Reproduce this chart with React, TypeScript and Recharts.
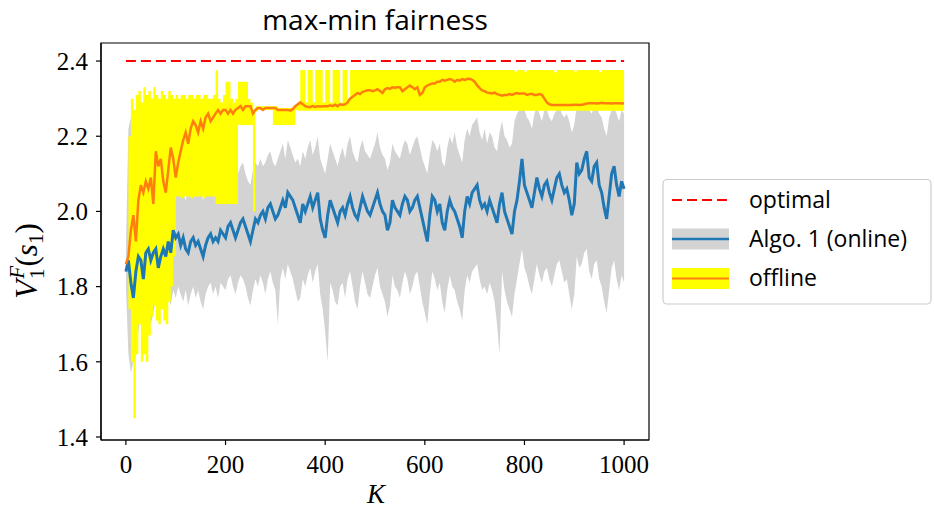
import React from "react";
import { ComposedChart, XAxis, YAxis, Area, Line, ReferenceArea } from "recharts";

// sampling grid: K = 0, 5, 10, ..., 1000
const OPTIMAL = 2.4;

const onlineMean = [
  1.84,1.87,1.81,1.77,1.84,1.88,1.87,1.82,1.89,1.90,1.87,1.89,1.90,1.85,1.88,1.90,1.88,1.92,1.89,1.95,
  1.93,1.94,1.91,1.93,1.90,1.89,1.92,1.93,1.91,1.92,1.90,1.88,1.91,1.93,1.94,1.92,1.93,1.92,1.95,1.94,
  1.93,1.96,1.97,1.95,1.93,1.95,1.97,1.98,1.96,1.94,1.92,1.95,1.98,1.97,1.99,2.00,1.98,2.01,2.02,2.00,
  1.98,1.99,2.01,2.03,2.01,2.05,2.04,2.03,2.01,1.99,1.97,2.02,2.00,2.02,2.04,2.01,2.03,2.05,1.98,1.95,
  1.93,1.99,2.03,2.01,1.99,1.97,2.00,2.01,1.99,2.02,2.04,2.01,1.99,1.98,2.01,2.04,2.02,2.00,1.99,2.01,
  2.03,2.05,2.02,2.00,1.99,1.95,1.97,2.03,2.01,2.00,1.99,2.02,2.04,2.03,2.00,2.01,2.03,2.04,2.01,1.98,
  1.95,1.92,1.99,2.04,2.03,2.00,2.02,1.97,1.95,2.00,2.03,2.01,2.00,1.98,1.96,1.93,2.00,2.04,2.02,2.05,
  2.06,2.07,2.03,2.01,2.02,2.00,2.03,2.01,1.99,1.97,2.02,2.05,2.00,1.98,1.96,1.94,2.00,2.03,2.08,2.14,
  2.07,2.05,2.03,2.01,2.05,2.09,2.06,2.04,2.07,2.08,2.05,2.03,2.06,2.09,2.10,2.07,2.05,2.06,2.03,1.99,
  2.02,2.13,2.10,2.11,2.14,2.16,2.09,2.08,2.12,2.13,2.07,2.05,2.01,1.98,2.04,2.10,2.12,2.07,2.04,2.08,
  2.06,
];

const onlineHigh = [
  1.90,2.22,2.25,2.12,2.06,2.02,2.05,2.00,2.04,2.02,2.03,2.01,2.04,2.00,2.03,2.05,2.02,2.06,2.03,2.07,
  2.06,2.04,2.07,2.05,2.03,2.06,2.08,2.05,2.07,2.04,2.06,2.03,2.07,2.09,2.08,2.06,2.09,2.07,2.10,2.08,
  2.07,2.10,2.12,2.09,2.07,2.10,2.12,2.13,2.10,2.08,2.07,2.11,2.13,2.12,2.14,2.12,2.13,2.15,2.16,2.13,
  2.12,2.14,2.16,2.18,2.14,2.19,2.17,2.15,2.13,2.14,2.12,2.16,2.14,2.17,2.19,2.15,2.17,2.20,2.14,2.12,
  2.10,2.14,2.18,2.16,2.14,2.12,2.15,2.17,2.14,2.18,2.20,2.16,2.14,2.13,2.17,2.19,2.16,2.15,2.14,2.16,
  2.18,2.21,2.17,2.15,2.14,2.11,2.13,2.18,2.16,2.15,2.14,2.17,2.19,2.18,2.15,2.17,2.19,2.20,2.17,2.14,
  2.12,2.10,2.15,2.19,2.18,2.16,2.18,2.13,2.12,2.17,2.20,2.18,2.21,2.17,2.15,2.13,2.19,2.22,2.20,2.23,
  2.24,2.25,2.21,2.19,2.22,2.18,2.21,2.20,2.17,2.16,2.21,2.24,2.20,2.19,2.17,2.18,2.24,2.26,2.27,2.29,
  2.27,2.25,2.24,2.22,2.26,2.28,2.26,2.24,2.27,2.27,2.25,2.24,2.26,2.27,2.28,2.26,2.25,2.26,2.24,2.21,
  2.23,2.28,2.27,2.27,2.28,2.29,2.27,2.26,2.28,2.28,2.26,2.25,2.22,2.20,2.25,2.27,2.28,2.26,2.24,2.27,
  2.26,
];

const onlineLow = [
  1.80,1.62,1.57,1.60,1.65,1.68,1.72,1.67,1.71,1.74,1.70,1.73,1.76,1.72,1.75,1.78,1.74,1.77,1.75,1.79,
  1.77,1.80,1.78,1.76,1.79,1.75,1.78,1.80,1.77,1.79,1.76,1.74,1.78,1.80,1.81,1.78,1.80,1.77,1.81,1.80,
  1.79,1.82,1.83,1.80,1.78,1.81,1.83,1.82,1.80,1.77,1.75,1.79,1.82,1.80,1.83,1.81,1.78,1.82,1.84,1.81,
  1.79,1.70,1.82,1.85,1.82,1.86,1.84,1.82,1.79,1.76,1.77,1.82,1.80,1.83,1.85,1.81,1.84,1.86,1.78,1.74,
  1.68,1.60,1.81,1.79,1.76,1.75,1.80,1.81,1.77,1.82,1.84,1.80,1.76,1.74,1.80,1.84,1.81,1.78,1.77,1.80,
  1.83,1.85,1.80,1.78,1.76,1.72,1.75,1.83,1.80,1.79,1.77,1.81,1.84,1.82,1.78,1.80,1.83,1.84,1.80,1.76,
  1.73,1.70,1.78,1.84,1.82,1.79,1.81,1.76,1.73,1.79,1.83,1.80,1.79,1.76,1.74,1.71,1.79,1.83,1.81,1.84,
  1.85,1.86,1.82,1.79,1.80,1.78,1.81,1.79,1.76,1.70,1.62,1.84,1.79,1.76,1.74,1.72,1.78,1.82,1.86,1.90,
  1.85,1.83,1.80,1.78,1.82,1.86,1.83,1.81,1.84,1.85,1.82,1.80,1.83,1.86,1.87,1.84,1.81,1.82,1.78,1.74,
  1.78,1.88,1.85,1.86,1.89,1.90,1.84,1.82,1.86,1.87,1.82,1.80,1.76,1.73,1.79,1.85,1.87,1.82,1.79,1.83,
  1.81,
];

const offlineMean = [
  1.86,1.88,1.95,1.99,1.92,2.03,2.07,2.05,2.08,2.06,2.09,2.02,2.16,2.12,2.14,2.08,2.05,2.11,2.17,2.14,
  2.09,2.13,2.16,2.19,2.21,2.18,2.22,2.24,2.23,2.21,2.24,2.22,2.25,2.26,2.24,2.25,2.26,2.27,2.26,2.27,
  2.27,2.26,2.27,2.26,2.27,2.275,2.28,2.27,2.28,2.28,2.28,2.26,2.27,2.275,2.275,2.27,2.275,2.275,2.275,2.275,
  2.275,2.27,2.27,2.27,2.27,2.27,2.268,2.272,2.28,2.285,2.29,2.285,2.28,2.278,2.278,2.28,2.278,2.28,2.279,2.28,
  2.28,2.28,2.282,2.28,2.284,2.28,2.285,2.283,2.285,2.29,2.30,2.305,2.31,2.315,2.312,2.318,2.32,2.322,2.322,2.32,
  2.322,2.325,2.32,2.315,2.325,2.328,2.326,2.33,2.329,2.33,2.33,2.32,2.325,2.33,2.335,2.33,2.325,2.33,2.31,2.315,
  2.33,2.335,2.338,2.34,2.34,2.345,2.345,2.35,2.348,2.35,2.352,2.35,2.345,2.35,2.348,2.352,2.35,2.352,2.353,2.35,
  2.345,2.335,2.328,2.322,2.32,2.316,2.315,2.314,2.316,2.312,2.31,2.308,2.31,2.31,2.312,2.31,2.313,2.315,2.313,2.314,
  2.314,2.31,2.312,2.313,2.31,2.31,2.312,2.31,2.30,2.29,2.285,2.283,2.283,2.283,2.283,2.283,2.283,2.283,2.283,2.283,
  2.284,2.284,2.283,2.284,2.285,2.287,2.288,2.288,2.288,2.287,2.288,2.289,2.288,2.288,2.288,2.287,2.288,2.288,2.288,2.287,
  2.288,
];

const offlineHigh = [
  1.87,2.20,2.30,2.27,2.31,2.32,2.29,2.33,2.31,2.32,2.30,2.33,2.31,2.30,2.32,2.31,2.30,2.32,2.31,2.30,
  2.31,2.30,2.31,2.31,2.30,2.31,2.31,2.30,2.31,2.31,2.30,2.31,2.31,2.30,2.30,2.31,2.375,2.30,2.29,2.31,
  2.345,2.345,2.30,2.29,2.30,2.345,2.345,2.345,2.345,2.30,2.29,2.27,2.28,2.28,2.28,2.28,2.28,2.28,2.28,2.28,
  2.28,2.275,2.275,2.275,2.275,2.275,2.275,2.28,2.285,2.29,2.376,2.376,2.29,2.376,2.376,2.29,2.376,2.376,2.376,2.29,
  2.376,2.376,2.29,2.376,2.376,2.376,2.29,2.376,2.376,2.30,2.376,2.376,2.376,2.376,2.376,2.376,2.376,2.376,2.376,2.376,
  2.376,2.376,2.376,2.376,2.376,2.376,2.376,2.376,2.376,2.376,2.376,2.376,2.376,2.376,2.376,2.376,2.376,2.376,2.376,2.376,
  2.376,2.376,2.376,2.376,2.376,2.376,2.376,2.376,2.376,2.376,2.376,2.376,2.376,2.376,2.376,2.376,2.376,2.376,2.376,2.376,
  2.376,2.376,2.376,2.376,2.376,2.376,2.376,2.376,2.376,2.376,2.376,2.376,2.376,2.376,2.376,2.376,2.372,2.376,2.376,2.376,
  2.372,2.376,2.376,2.376,2.376,2.376,2.376,2.376,2.376,2.376,2.376,2.376,2.37,2.376,2.376,2.376,2.376,2.376,2.376,2.376,
  2.372,2.376,2.376,2.376,2.376,2.376,2.376,2.376,2.376,2.376,2.37,2.376,2.376,2.376,2.376,2.376,2.376,2.376,2.376,2.376,
  2.376,
];

const offlineLow = [
  1.85,1.74,1.60,1.45,1.62,1.70,1.60,1.62,1.60,1.67,1.72,1.75,1.71,1.70,1.74,1.71,1.70,1.76,1.80,1.88,
  2.04,2.04,2.035,2.04,2.04,2.04,2.035,2.04,2.04,2.04,2.04,2.035,2.04,2.04,2.04,2.04,2.02,2.02,2.02,2.02,
  2.02,2.02,2.02,2.02,2.02,2.23,2.23,2.23,2.23,2.23,2.23,2.00,2.265,2.27,2.27,2.27,2.27,2.27,2.27,2.23,
  2.23,2.23,2.23,2.23,2.23,2.23,2.23,2.23,2.27,2.268,2.268,2.268,2.268,2.268,2.268,2.268,2.268,2.268,2.268,2.268,
  2.268,2.268,2.268,2.268,2.268,2.268,2.268,2.268,2.268,2.268,2.268,2.268,2.268,2.268,2.268,2.268,2.268,2.268,2.268,2.268,
  2.268,2.268,2.268,2.268,2.268,2.268,2.268,2.268,2.268,2.268,2.268,2.268,2.268,2.268,2.268,2.268,2.268,2.268,2.268,2.268,
  2.268,2.268,2.268,2.268,2.268,2.268,2.268,2.268,2.268,2.268,2.268,2.268,2.268,2.268,2.268,2.268,2.268,2.268,2.268,2.268,
  2.268,2.268,2.268,2.268,2.268,2.268,2.268,2.268,2.268,2.268,2.268,2.268,2.268,2.268,2.268,2.268,2.268,2.268,2.268,2.268,
  2.268,2.268,2.268,2.268,2.268,2.268,2.268,2.268,2.268,2.268,2.268,2.268,2.268,2.268,2.268,2.268,2.268,2.268,2.268,2.268,
  2.268,2.268,2.268,2.268,2.268,2.268,2.268,2.268,2.268,2.268,2.268,2.268,2.268,2.268,2.268,2.268,2.268,2.268,2.268,2.268,
  2.268,
];

const xTicks = [0, 200, 400, 600, 800, 1000];
const yTicks = [1.4, 1.6, 1.8, 2.0, 2.2, 2.4];
const xDomain = [-50, 1050];
const yDomain = [1.392, 2.448];
const legendLabels = ["optimal", "Algo. 1 (online)", "offline"];
const titleText = "max-min fairness";

const rows = onlineMean.map((m, i) => ({
  k: i * 5,
  opt: OPTIMAL,
  grayBand: [onlineLow[i], onlineHigh[i]],
  yellowBand: [offlineLow[i], offlineHigh[i]],
  online: m,
  offline: offlineMean[i],
}));

const SANS = "'Open Sans', sans-serif";
const SERIF = "'Liberation Serif', serif";

export default function App() {
  return (
    <div style={{ position: "absolute", left: 0, top: 0, width: 934, height: 510, background: "#fff" }}>
      <ComposedChart
        width={934}
        height={510}
        data={rows}
        margin={{ top: 43, right: 285, bottom: 0, left: 0 }}
      >
        <XAxis
          xAxisId="b"
          dataKey="k"
          type="number"
          domain={xDomain}
          ticks={xTicks}
          allowDataOverflow
          height={70}
          tickSize={5}
          tickMargin={10}
          axisLine={{ stroke: "#000", strokeWidth: 1.2 }}
          tickLine={{ stroke: "#000", strokeWidth: 1.2 }}
          tick={{ fontFamily: SERIF, fontSize: 25, fill: "#000" }}
        />
        <YAxis
          yAxisId="l"
          type="number"
          domain={yDomain}
          ticks={yTicks}
          allowDataOverflow
          width={101}
          tickSize={5}
          tickMargin={8}
          tickFormatter={(v: number) => v.toFixed(1)}
          axisLine={{ stroke: "#000", strokeWidth: 1.2 }}
          tickLine={{ stroke: "#000", strokeWidth: 1.2 }}
          tick={{ fontFamily: SERIF, fontSize: 25, fill: "#000" }}
        />
        <Area
          xAxisId="b"
          yAxisId="l"
          dataKey="grayBand"
          type="linear"
          stroke="none"
          fill="#d3d3d3"
          fillOpacity={1}
          dot={false}
          activeDot={false}
          isAnimationActive={false}
        />
        <Area
          xAxisId="b"
          yAxisId="l"
          dataKey="yellowBand"
          type="stepAfter"
          stroke="none"
          fill="#ffff00"
          fillOpacity={1}
          dot={false}
          activeDot={false}
          isAnimationActive={false}
        />
        <Line
          xAxisId="b"
          yAxisId="l"
          dataKey="opt"
          type="linear"
          stroke="#ff0000"
          strokeWidth={2}
          strokeDasharray="10 5"
          dot={false}
          activeDot={false}
          isAnimationActive={false}
        />
        <Line
          xAxisId="b"
          yAxisId="l"
          dataKey="online"
          type="linear"
          stroke="#1f77b4"
          strokeWidth={3}
          dot={false}
          activeDot={false}
          isAnimationActive={false}
        />
        <Line
          xAxisId="b"
          yAxisId="l"
          dataKey="offline"
          type="linear"
          stroke="#ff7f0e"
          strokeWidth={2.5}
          dot={false}
          activeDot={false}
          isAnimationActive={false}
        />
        <ReferenceArea
          xAxisId="b"
          yAxisId="l"
          x1={xDomain[0]}
          x2={xDomain[1]}
          y1={yDomain[0]}
          y2={yDomain[1]}
          fill="none"
          fillOpacity={0}
          stroke="#000"
          strokeWidth={1.2}
          ifOverflow="visible"
        />
      </ComposedChart>
      <svg
        width={934}
        height={510}
        style={{ position: "absolute", left: 0, top: 0, pointerEvents: "none" }}
      >
        <text x={375} y={30} textAnchor="middle" fontFamily={SANS} fontSize={28} fill="#000">
          {titleText}
        </text>
        <text x={376} y={503} textAnchor="middle" fontFamily={SERIF} fontStyle="italic" fontSize={27} fill="#000">
          K
        </text>
        <g transform="translate(37,261) rotate(-90)">
          <text x={0} y={0} textAnchor="middle" fontFamily={SERIF} fill="#000" fontSize={31}>
            <tspan fontStyle="italic">V</tspan>
            <tspan fontSize={21} dy={-13} dx={1} fontStyle="italic">F</tspan>
            <tspan fontSize={21} dx={-13} dy={20}>1</tspan>
            <tspan dy={-7} dx={2}>(</tspan>
            <tspan fontStyle="italic">s</tspan>
            <tspan fontSize={21} dy={6}>1</tspan>
            <tspan dy={-6}>)</tspan>
          </text>
        </g>
        <rect x={663} y={179.5} width={268} height={124.5} rx={4} fill="#fff" fillOpacity={0.8} stroke="#cccccc" strokeWidth={1.2} />
        <line x1={672} y1={200} x2={729} y2={200} stroke="#ff0000" strokeWidth={2} strokeDasharray="10 5" />
        <rect x={672} y={228.5} width={57} height={21} fill="#d3d3d3" />
        <line x1={672} y1={239} x2={729} y2={239} stroke="#1f77b4" strokeWidth={2.6} />
        <rect x={672} y={268} width={57} height={21} fill="#ffff00" />
        <line x1={672} y1={278.5} x2={729} y2={278.5} stroke="#ff7f0e" strokeWidth={2.2} />
        <text x={749} y={208} fontFamily={SANS} fontSize={23} fill="#000">{legendLabels[0]}</text>
        <text x={749} y={247} fontFamily={SANS} fontSize={23} fill="#000">{legendLabels[1]}</text>
        <text x={749} y={286} fontFamily={SANS} fontSize={23} fill="#000">{legendLabels[2]}</text>
      </svg>
    </div>
  );
}
